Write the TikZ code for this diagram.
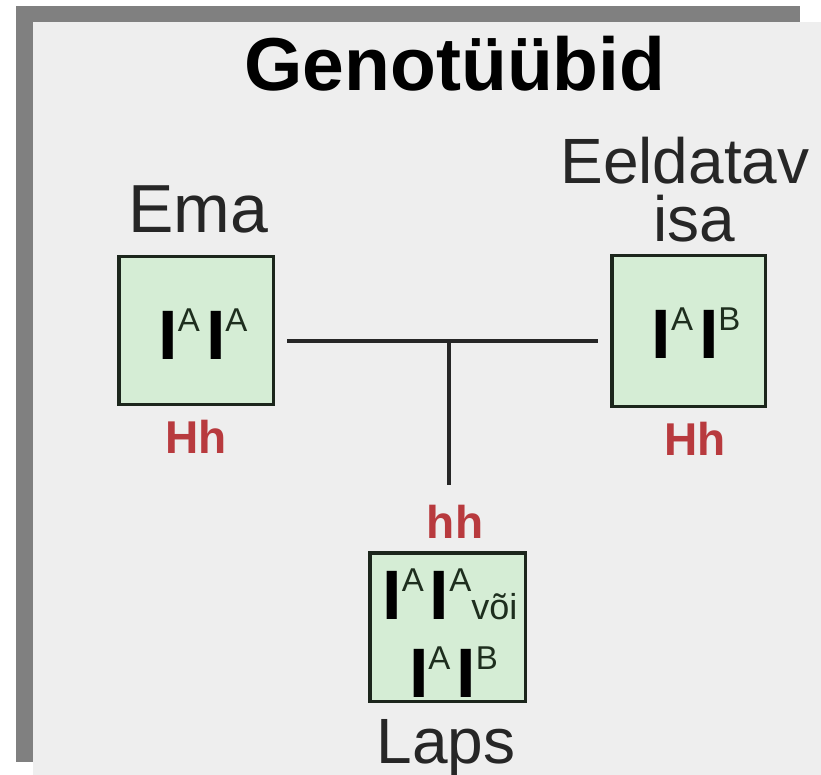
\documentclass[tikz,border=0pt]{standalone}
\usepackage{fontspec}
\setmainfont{Liberation Sans}
\definecolor{framegray}{HTML}{808080}
\definecolor{panel}{HTML}{EEEEEE}
\definecolor{boxfill}{HTML}{D5EDD5}
\definecolor{boxline}{HTML}{1C261C}
\definecolor{hred}{HTML}{B83A3E}
\definecolor{supcol}{HTML}{1E2E1E}
\newcommand{\fsz}[1]{\fontsize{#1}{#1}\selectfont}
\newcommand{\gene}[1]{{\fsz{70}\bfseries I}\raisebox{28pt}{\color{supcol}\fsz{33}#1}}
\tikzset{
  genobox/.style={draw=boxline, fill=boxfill, line width=3.5pt, rectangle, inner sep=0pt},
  label/.style={anchor=base, inner sep=0pt, text=black!85},
  hlabel/.style={anchor=base, inner sep=0pt, text=hred, font=\fsz{46}\bfseries},
  geno/.style={anchor=base, inner sep=0pt},
  link/.style={line width=4.5pt, draw=black!85}
}
\begin{document}
\begin{tikzpicture}[x=1pt,y=-1pt]
\useasboundingbox (0,0) rectangle (821,775);
\fill[white] (0,0) rectangle (821,775);
\fill[framegray] (16,6) rectangle (800,762);
\fill[panel] (33,22) rectangle (821,775);

\node[label, text=black, font=\fsz{75}\bfseries] (title) at (455,91) {Genotüübid};

\node[genobox, minimum width=154.5pt, minimum height=147.5pt] (ema) at (196,330.5) {};
\node[genobox, minimum width=153.5pt, minimum height=150.5pt] (isa) at (688.5,331) {};
\node[genobox, minimum width=155.5pt, minimum height=148.5pt] (laps) at (447.5,627) {};

\node[label, font=\fsz{68}] (emat) at (198,233) {Ema};
\node[label, font=\fsz{64}] (isat1) at (685,184) {Eeldatav};
\node[label, font=\fsz{64}] (isat2) at (694,242) {isa};
\node[label, font=\fsz{64}] (lapst) at (446,763) {Laps};

\node[hlabel] (hh1) at (196,453) {Hh};
\node[hlabel] (hh2) at (695,455) {Hh};
\node[hlabel] (hh3) at (455,538) {hh};

\node[geno] (g1) at (203,359) {\gene{A}\hspace{6pt}\gene{A}};
\node[geno] (g2) at (696,358) {\gene{A}\hspace{6pt}\gene{B}};
\node[geno] (g3) at (450,619) {\gene{A}\hspace{6pt}\gene{A}{\color{supcol}\fsz{36}või}};
\node[geno] (g4) at (453.5,697) {\gene{A}\hspace{6pt}\gene{B}};

\coordinate (j) at (449,341);
\coordinate (jd) at (449,485);
\draw[link] ([xshift=12pt]ema.east |- j) -- ([xshift=-12pt]isa.west |- j);
\draw[link] (j) -- (jd);
\end{tikzpicture}
\end{document}
